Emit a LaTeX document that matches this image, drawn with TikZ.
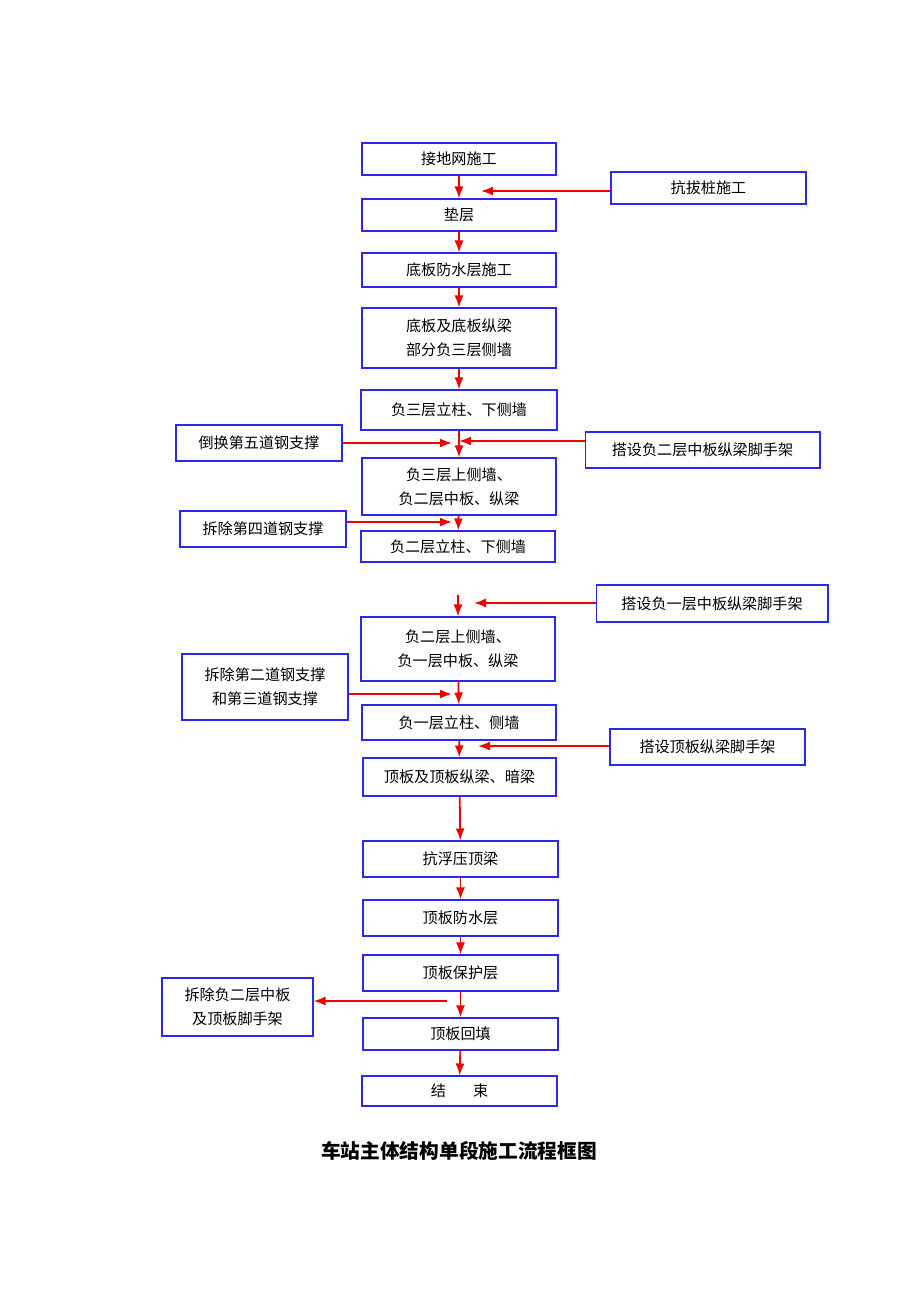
\documentclass[tikz,border=0pt]{standalone}
\usepackage{fontspec}
\usepackage{tikz}
\usetikzlibrary{arrows.meta}
\newfontfamily\cjk{Noto Sans CJK SC}
\definecolor{boxblue}{RGB}{40,40,240}
\definecolor{arrred}{RGB}{240,0,0}

\begin{document}
\begin{tikzpicture}[x=0.02cm, y=-0.02cm,
   box/.style = {draw=boxblue, line width=0.6pt, inner sep=0pt, align=center,
                 font=\cjk\fontsize{8.6}{13.6}\selectfont},
   flow/.style = {draw=arrred, line width=1pt, -{Latex[length=2.4mm,width=1.8mm]}}]
   \useasboundingbox (0,0) rectangle (920,1302);
   % main column
   \node[box, minimum width=3.88cm, minimum height=0.64cm] (jdw) at (459,159) {接地网施工};
   \node[box, minimum width=3.88cm, minimum height=0.64cm] (dc) at (459,215) {垫层};
   \node[box, minimum width=3.88cm, minimum height=0.68cm] (dbfs) at (459,270) {底板防水层施工};
   \node[box, minimum width=3.88cm, minimum height=1.20cm] (db) at (459,338) {底板及底板纵梁\\部分负三层侧墙};
   \node[box, minimum width=3.92cm, minimum height=0.80cm] (fs1) at (459,410) {负三层立柱、下侧墙};
   \node[box, minimum width=3.88cm, minimum height=1.14cm] (fs2) at (459,486.5) {负三层上侧墙、\\负二层中板、纵梁};
   \node[box, minimum width=3.88cm, minimum height=0.62cm] (fe1) at (458,546.5) {负二层立柱、下侧墙};
   \node[box, minimum width=3.88cm, minimum height=1.28cm] (fe2) at (458,649) {负二层上侧墙、\\负一层中板、纵梁};
   \node[box, minimum width=3.88cm, minimum height=0.70cm] (fy1) at (459,722.5) {负一层立柱、侧墙};
   \node[box, minimum width=3.86cm, minimum height=0.76cm] (db2) at (459.5,777) {顶板及顶板纵梁、暗梁};
   \node[box, minimum width=3.90cm, minimum height=0.72cm] (kf) at (460.5,859) {抗浮压顶梁};
   \node[box, minimum width=3.90cm, minimum height=0.72cm] (dbfs2) at (460.5,918) {顶板防水层};
   \node[box, minimum width=3.90cm, minimum height=0.72cm] (dbbh) at (460.5,973) {顶板保护层};
   \node[box, minimum width=3.90cm, minimum height=0.64cm] (dbht) at (460.5,1034) {顶板回填};
   \node[box, minimum width=3.90cm, minimum height=0.60cm] (js) at (459.5,1091) {结\hspace{1.8em}束};
   % side boxes
   \node[box, minimum width=3.90cm, minimum height=0.64cm] (kbz) at (708.5,188) {抗拔桩施工};
   \node[box, minimum width=3.32cm, minimum height=0.72cm] (dh5) at (259,443) {倒换第五道钢支撑};
   \node[box, minimum width=4.70cm, minimum height=0.72cm] (ds2) at (702.5,450) {搭设负二层中板纵梁脚手架};
   \node[box, minimum width=3.32cm, minimum height=0.72cm] (cc4) at (263,529) {拆除第四道钢支撑};
   \node[box, minimum width=4.64cm, minimum height=0.74cm] (ds1) at (712,603.5) {搭设负一层中板纵梁脚手架};
   \node[box, minimum width=3.32cm, minimum height=1.32cm] (cc23) at (265,687) {拆除第二道钢支撑\\和第三道钢支撑};
   \node[box, minimum width=3.90cm, minimum height=0.72cm] (dsdb) at (707.5,747) {搭设顶板纵梁脚手架};
   \node[box, minimum width=3.02cm, minimum height=1.16cm] (ccfe) at (237.5,1007) {拆除负二层中板\\及顶板脚手架};
   % free ends
   \coordinate (a1) at (481,191);
   \coordinate (a2) at (452,443);
   \coordinate (a3) at (459,441);
   \coordinate (a4) at (452,522);
   \coordinate (a5) at (474,603);
   \coordinate (a6) at (452,694);
   \coordinate (a7) at (478,746);
   \coordinate (b8) at (447,1001);
   \coordinate (c7) at (458,595);
   % vertical flow
   \draw[flow] (jdw) -- (dc);
   \draw[flow] (dc) -- (dbfs);
   \draw[flow] (dbfs) -- (db);
   \draw[flow] (db) -- (fs1);
   \draw[flow] (fs1) -- (fs2);
   \draw[flow] (fs2) -- (fe1);
   \draw[flow] (c7) -- (fe2.north);
   \draw[flow] (fe2) -- (fy1);
   \draw[flow] (fy1) -- (db2);
   \draw[flow] (db2) -- (kf);
   \draw[flow] (kf) -- (dbfs2);
   \draw[flow] (dbfs2) -- (dbbh);
   \draw[flow] (dbbh) -- (dbht);
   \draw[flow] (dbht) -- (js);
   % side flow
   \draw[flow] (kbz.west |- a1) -- (a1);
   \draw[flow] (dh5.east |- a2) -- (a2);
   \draw[flow] (ds2.west |- a3) -- (a3);
   \draw[flow] (cc4.east |- a4) -- (a4);
   \draw[flow] (ds1.west |- a5) -- (a5);
   \draw[flow] (cc23.east |- a6) -- (a6);
   \draw[flow] (dsdb.west |- a7) -- (a7);
   \draw[flow] (b8) -- (ccfe.east |- b8);
   % title
   \node[font=\cjk\bfseries\fontsize{11.2}{13}\selectfont] (title) at (459,1151) {车站主体结构单段施工流程框图};
\end{tikzpicture}
\end{document}
